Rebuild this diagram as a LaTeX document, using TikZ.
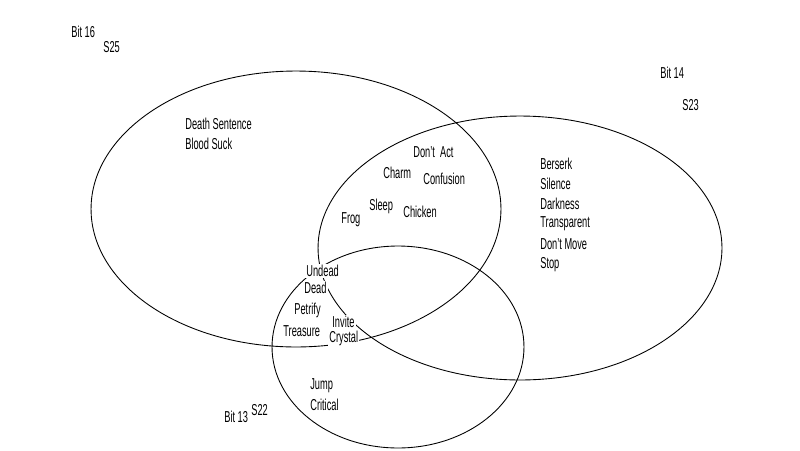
\documentclass[tikz,border=0pt]{standalone}
\usepackage{fontspec}
\setmainfont[FakeStretch=0.585]{Liberation Sans}
\begin{document}
\begin{tikzpicture}[x=0.02cm,y=-0.02cm,
        lbl/.style={anchor=west,inner sep=0pt,font=\fontsize{9}{10}\selectfont},
        over/.style={lbl,fill=white,inner sep=0.6pt}]
        \useasboundingbox[fill=white](0,0) rectangle (800,450);
        \draw[line width=0.5pt](296,209) ellipse [x radius=4.1cm, y radius=2.76cm];
        \draw[line width=0.5pt](520,248) ellipse [x radius=4.04cm, y radius=2.64cm];
        \draw[line width=0.5pt](398,347) ellipse [x radius=2.52cm, y radius=2.02cm];
        \node[lbl] (bit16) at (71,32) {Bit 16};
        \node[lbl] (s25) at (103,47) {S25};
        \node[lbl] (bit14) at (660,73) {Bit 14};
        \node[lbl] (s23) at (682,105) {S23};
        \node[lbl] (bit13) at (224,417) {Bit 13};
        \node[lbl] (s22) at (251,410) {S22};
        \node[lbl] (death) at (185,124) {Death Sentence};
        \node[lbl] (blood) at (185,144) {Blood Suck};
        \node[lbl] (dontact) at (413,152) {Don't\ \ Act};
        \node[lbl] (charm) at (383,173) {Charm};
        \node[lbl] (confusion) at (423,179) {Confusion};
        \node[lbl] (sleep) at (369,206) {Sleep};
        \node[lbl] (chicken) at (403,212) {Chicken};
        \node[lbl] (frog) at (341,220) {Frog};
        \node[lbl] (berserk) at (540,164) {Berserk};
        \node[lbl] (silence) at (540,184) {Silence};
        \node[lbl] (darkness) at (540,204) {Darkness};
        \node[lbl] (transparent) at (540,224) {Transparent};
        \node[lbl] (dontmove) at (540,244) {Don't Move};
        \node[lbl] (stop) at (540,265) {Stop};
        \node[over] (undead) at (305,271) {Undead};
        \node[over] (dead) at (303,288) {Dead};
        \node[over] (petrify) at (293,310) {Petrify};
        \node[over] (treasure) at (282,331) {Treasure};
        \node[over] (invite) at (331,322) {Invite};
        \node[over] (crystal) at (328,338) {Crystal};
        \node[lbl] (jump) at (310,386) {Jump};
        \node[lbl] (critical) at (310,405) {Critical};
    \end{tikzpicture}
\end{document}
